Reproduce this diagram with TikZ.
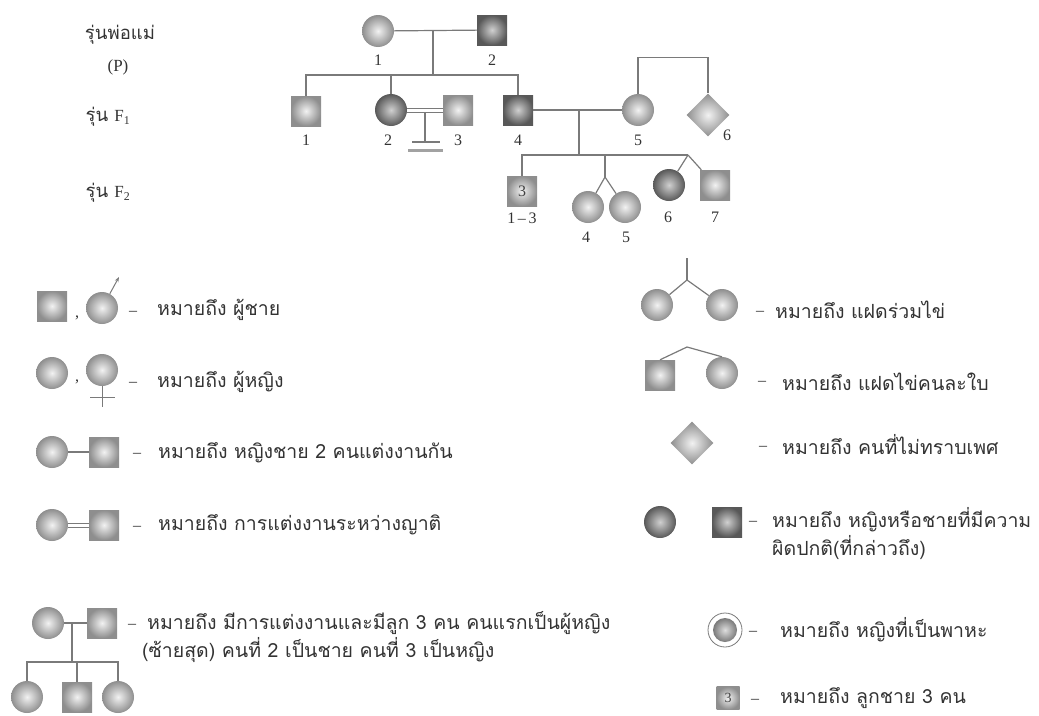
\documentclass[tikz,border=0pt]{standalone}
\usepackage{fontspec}
\setmainfont{Liberation Serif}
\newfontfamily\thai[Script=Thai]{Loma}
\usetikzlibrary{shapes.geometric,arrows.meta}
\definecolor{lc}{HTML}{7A7A7A}
\definecolor{shin}{HTML}{F2F2F2}
\definecolor{shout}{HTML}{8E8E8E}
\definecolor{ain}{HTML}{D0D0D0}
\definecolor{aout}{HTML}{585858}
\tikzset{
 ln/.style={draw=lc, line width=1.2pt},
 male/.style={rectangle, minimum size=30pt, inner sep=0pt, inner color=shin, outer color=shout},
 fem/.style={circle, minimum size=32pt, inner sep=0pt, inner color=shin, outer color=shout},
 affm/.style={male, inner color=ain, outer color=aout},
 afff/.style={fem, inner color=ain, outer color=aout},
 unk/.style={diamond, minimum size=43pt, inner sep=0pt, inner color=shin, outer color=shout},
 num/.style={font=\fontsize{16}{16}\selectfont, text=black!80, inner sep=0pt},
 th/.style={font=\thai\fontsize{19.5}{22}\selectfont, text=black!80, anchor=west, inner sep=0pt},
 cma/.style={font=\fontsize{16}{16}\selectfont, text=black!80, inner sep=0pt},
 dsh/.style={font=\fontsize{16}{16}\selectfont, text=black!80, inner sep=0pt, yshift=-3pt},
}
\begin{document}
\begin{tikzpicture}[x=1pt,y=-1pt]
\useasboundingbox (0,0) rectangle (1039,715);
% ---------- side labels
\node[th, anchor=center, font=\thai\fontsize{18.5}{20}\selectfont] (gp) at (120,35) {รุ่นพ่อแม่};
\node[num, font=\fontsize{17}{17}\selectfont] (gpp) at (118,67) {(P)};
\node[th, anchor=center, font=\thai\fontsize{18.5}{20}\selectfont] (g1) at (108,117) {รุ่น {\rmfamily\fontsize{17}{17}\selectfont F\textsubscript{1}}};
\node[th, anchor=center, font=\thai\fontsize{18.5}{20}\selectfont] (g2) at (108,193) {รุ่น {\rmfamily\fontsize{17}{17}\selectfont F\textsubscript{2}}};
% ---------- P
\node[fem] (p1) at (378,31) {};
\node[affm] (p2) at (492,30) {};
\node[num] (lp1) at (378,60) {1};
\node[num] (lp2) at (492,60) {2};
\draw[ln] (p1) -- (p2);
\coordinate (m1) at (433,30);
\coordinate (s1) at (433,75);
\draw[ln] (m1) -- (s1);
% ---------- F1
\node[male] (f11) at (306,111) {};
\node[afff] (f12) at (391,110) {};
\node[male] (f13) at (458,110) {};
\node[affm] (f14) at (518,110) {};
\node[fem] (f15) at (638,110) {};
\node[unk] (f16) at (708,115) {};
\node[num] (l11) at (306,140) {1};
\node[num] (l12) at (388,140) {2};
\node[num] (l13) at (458,140) {3};
\node[num] (l14) at (518,140) {4};
\node[num] (l15) at (638,140) {5};
\node[num] (l16) at (727,135) {6};
\draw[ln] (f11.north) -- (f11.north |- s1) -- (f14.north |- s1) -- (f14.north);
\draw[ln] (f12.north) -- (f12.north |- s1);
\draw[ln] (f15.north) -- ++(0,-36) -| (f16.north);
% consanguineous marriage, no offspring
\draw[ln, line width=1pt] ([yshift=-2pt]f12.east) -- ([yshift=-2pt]f13.west);
\draw[ln, line width=1pt] ([yshift=2pt]f12.east) -- ([yshift=2pt]f13.west);
\coordinate (c1) at (425,112);
\coordinate (c2) at (425,142);
\draw[ln] (c1) -- (c2);
\draw[ln] ([xshift=-13pt]c2) -- ([xshift=15pt]c2);
\draw[draw=lc!70, line width=3pt] (408,150) -- (443,150);
% marriage 4 x 5
\draw[ln] (f14) -- (f15);
\coordinate (m2) at (579,110);
\coordinate (s2) at (579,155);
\draw[ln] (m2) -- (s2);
% ---------- F2
\node[male] (f2a) at (522,191) {\fontsize{16}{16}\selectfont\color{black!75}3};
\node[fem] (f24) at (588,207) {};
\node[fem] (f25) at (625,207) {};
\node[afff] (f26) at (669,185) {};
\node[male] (f27) at (715,185) {};
\node[num] (l2a) at (522,218) {1\,--\,3};
\node[num] (l24) at (586,237) {4};
\node[num] (l25) at (626,237) {5};
\node[num] (l26) at (668,217) {6};
\node[num] (l27) at (715,217) {7};
\coordinate (sr) at (688,155);
\coordinate (tw) at (605,155);
\coordinate (tb) at (605,177);
\draw[ln] (f2a.north) -- (f2a.north |- s2) -- (sr);
\draw[ln] (tw) -- (tb);
\draw[ln] (tb) -- (f24);
\draw[ln] (tb) -- (f25);
\draw[ln] (sr) -- (f26);
\draw[ln] (sr) -- (f27);
% ---------- legend left
\node[male] (a1) at (52,306) {};
\node[cma] (a1c) at (77,318) {,};
\node[fem] (a2) at (102,308) {};
\coordinate (a2t) at (119,277);
\draw[ln, line width=1pt, -{Stealth[length=5pt]}] (a2) -- (a2t);
\node[dsh] (a1d) at (133,310) {--};
\node[th] (a1t) at (157,310) {หมายถึง ผู้ชาย};

\node[fem] (b1) at (52,373) {};
\node[cma] (b1c) at (77,382) {,};
\node[fem] (b2) at (102,370) {};
\coordinate (b2b) at (102,407);
\draw[ln, line width=1pt] (b2.south) -- (b2b);
\draw[ln, line width=1pt] (90,397) -- (115,397);
\node[dsh] (b1d) at (133,381) {--};
\node[th] (b1t) at (157,382) {หมายถึง ผู้หญิง};

\node[fem] (c3) at (52,452) {};
\node[male] (c4) at (104,452) {};
\draw[ln] (c3) -- (c4);
\node[dsh] (c3d) at (137,452) {--};
\node[th] (c3t) at (158,453) {หมายถึง หญิงชาย 2 คนแต่งงานกัน};

\node[fem] (d3) at (52,525) {};
\node[male] (d4) at (104,525) {};
\draw[ln, line width=1pt] ([yshift=-2pt]d3.east) -- ([yshift=-2pt]d4.west);
\draw[ln, line width=1pt] ([yshift=2pt]d3.east) -- ([yshift=2pt]d4.west);
\node[dsh] (d3d) at (137,525) {--};
\node[th] (d3t) at (158,525) {หมายถึง การแต่งงานระหว่างญาติ};

\node[fem] (e1) at (48,623) {};
\node[male] (e2) at (102,623) {};
\draw[ln] (e1) -- (e2);
\coordinate (em) at (72,623);
\coordinate (es) at (72,662);
\draw[ln] (em) -- (es);
\node[fem] (e3) at (27,697) {};
\node[male] (e4) at (77,697) {};
\node[fem] (e5) at (118,697) {};
\draw[ln] (e3.north) -- (e3.north |- es) -- (e5.north |- es) -- (e5.north);
\draw[ln] (e4.north) -- (e4.north |- es);
\node[dsh] (e1d) at (132,623) {--};
\node[th] (e1t) at (147,623) {หมายถึง มีการแต่งงานและมีลูก 3 คน คนแรกเป็นผู้หญิง};
\node[th] (e2t) at (142,650) {(ซ้ายสุด) คนที่ 2 เป็นชาย คนที่ 3 เป็นหญิง};
% ---------- legend right
\node[fem] (t1) at (657,305) {};
\node[fem] (t2) at (722,305) {};
\coordinate (tbr) at (687,280);
\coordinate (ttop) at (687,258);
\draw[ln] (ttop) -- (tbr);
\draw[ln] (tbr) -- (t1);
\draw[ln] (tbr) -- (t2);
\node[dsh] (t1d) at (760,310) {--};
\node[th] (t1t) at (775,310) {หมายถึง แฝดร่วมไข่};

\node[male] (z1) at (660,375) {};
\node[fem] (z2) at (722,373) {};
\coordinate (zap) at (687,347);
\draw[ln] (z1.north) -- (zap) -- (z2.north);
\node[dsh] (z1d) at (762,380) {--};
\node[th] (z1t) at (782,382) {หมายถึง แฝดไข่คนละใบ};

\node[unk] (u1) at (692,443) {};
\node[dsh] (u1d) at (763,445) {--};
\node[th] (u1t) at (782,445) {หมายถึง คนที่ไม่ทราบเพศ};

\node[afff] (v1) at (660,522) {};
\node[affm] (v2) at (727,522) {};
\node[dsh] (v1d) at (753,520) {--};
\node[th] (v1t) at (772,520) {หมายถึง หญิงหรือชายที่มีความ};
\node[th] (v2t) at (772,548) {ผิดปกติ(ที่กล่าวถึง)};

\node[circle, draw=lc, line width=0.8pt, minimum size=34pt, inner sep=0pt, fill=white] (w0) at (725,630) {};
\node[circle, minimum size=24pt, inner sep=0pt, inner color=ain!70, outer color=aout!80] (w1) at (w0.center) {};
\node[dsh] (w1d) at (753,630) {--};
\node[th] (w1t) at (780,630) {หมายถึง หญิงที่เป็นพาหะ};

\node[male, minimum size=23pt] (x1) at (728,698) {\fontsize{14}{14}\selectfont\color{black!75}3};
\node[dsh] (x1d) at (755,698) {--};
\node[th] (x1t) at (780,698) {หมายถึง ลูกชาย 3 คน};
\end{tikzpicture}
\end{document}
